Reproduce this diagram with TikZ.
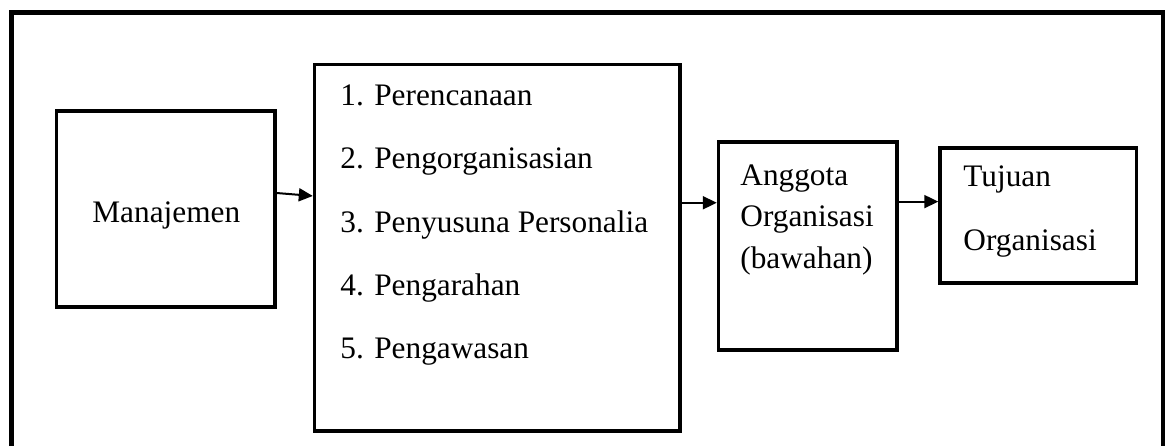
\documentclass[tikz,border=0pt]{standalone}
\usepackage{fontspec}
\setmainfont{Liberation Serif}
\usetikzlibrary{arrows.meta}
\begin{document}
\begin{tikzpicture}[x=0.5pt,y=-0.5pt,
  box/.style={draw,line width=1.7pt,rectangle,inner sep=0pt},
  txt/.style={anchor=base west,inner sep=0pt,font=\fontsize{15.65pt}{18pt}\selectfont},
  arr/.style={line width=1pt,-{Triangle[length=7pt,width=6.5pt]}},
  frame/.style={line width=2.5pt,line join=miter}]
\useasboundingbox (0,0) rectangle (1165,446);
% outer frame (open at bottom)
\draw[frame] (11,446) -- (11,12.5) -- (1163.5,12.5) -- (1163.5,446);
% boxes
\node[box,minimum width=109.25pt,minimum height=98pt] (man) at (165.75,209) {};
\node[box,minimum width=182.75pt,minimum height=183.25pt] (list) at (497.25,247.75) {};
\node[box,minimum width=89.25pt,minimum height=104pt] (ang) at (807.75,246) {};
\node[box,minimum width=98.25pt,minimum height=67.5pt] (tuj) at (1038.25,215.5) {};
% texts
\node[txt] (tman) at (92,222) {Manajemen};
\node[txt] (l1) at (340,105) {1. Perencanaan};
\node[txt] (l2) at (340,168) {2. Pengorganisasian};
\node[txt] (l3) at (340,232) {3. Penyusuna Personalia};
\node[txt] (l4) at (340,295) {4. Pengarahan};
\node[txt] (l5) at (340,358) {5. Pengawasan};
\node[txt] (a1) at (740,185) {Anggota};
\node[txt] (a2) at (740,226.7) {Organisasi};
\node[txt] (a3) at (740,268) {(bawahan)};
\node[txt] (t1) at (963,186.7) {Tujuan};
\node[txt] (t2) at (963,250) {Organisasi};
% connectors
\draw[arr] ([yshift=8pt]man.east) -- ([yshift=25.9pt]list.west);
\draw[arr] ([yshift=22.5pt]list.east) -- ([yshift=22.5pt]list.east -| ang.west);
\draw[arr] ([yshift=22.2pt]ang.east) -- ([yshift=22.2pt]ang.east -| tuj.west);
\end{tikzpicture}
\end{document}
